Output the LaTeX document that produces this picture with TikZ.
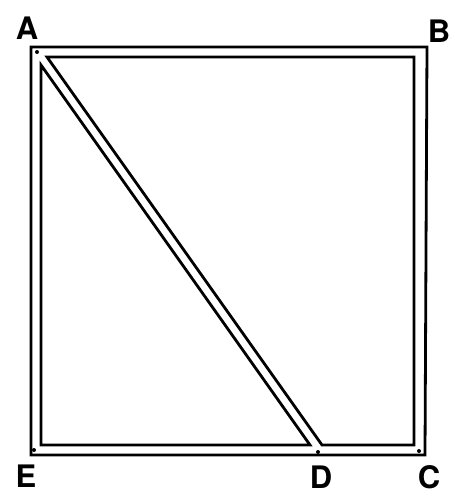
\documentclass[tikz,border=0pt]{standalone}
\usepackage{fontspec}
\setmainfont{TeX Gyre Heros}
\begin{document}
\begin{tikzpicture}[x=1pt,y=-1pt,
  edge/.style={line width=2.8pt,line join=miter},
  lbl/.style={font=\bfseries\fontsize{31}{31}\selectfont,inner sep=0pt},
  pin/.style={fill=black,circle,inner sep=0pt,minimum size=4pt}]
\useasboundingbox (0,0) rectangle (455,501);
% outer frame
\coordinate (oA) at (31,47);
\coordinate (oB) at (427,47);
\coordinate (oC) at (425,455);
\coordinate (oE) at (31,455);
\draw[edge] (oA) -- (oB) -- (oC) -- (oE) -- cycle;
% lower-left triangle (inner)
\draw[edge] (41,65) -- (310,445) -- (41,445) -- cycle;
% upper-right region (inner)
\draw[edge] (47,57) -- (414,57) -- (414,445) -- (322,445) -- cycle;
% pins
\node[pin] (pA) at (37,52) {};
\node[pin] (pE) at (34,450) {};
\node[pin] (pD) at (318,452) {};
\node[pin] (pC) at (419,451) {};
% labels
\node[lbl] (A) at (27,28) {A};
\node[lbl] (B) at (439,31) {B};
\node[lbl] (E) at (26,476) {E};
\node[lbl] (D) at (321,477) {D};
\node[lbl] (C) at (429,477) {C};
\end{tikzpicture}
\end{document}
